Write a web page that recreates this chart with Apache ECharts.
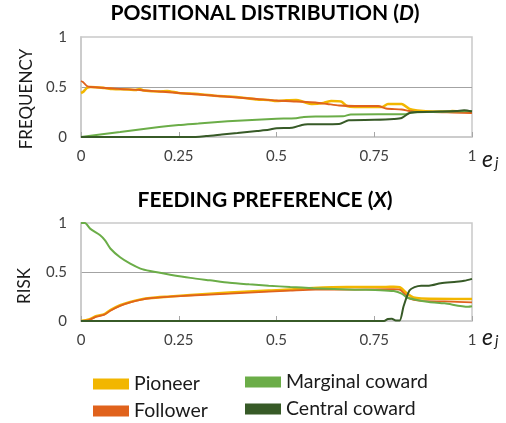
<!DOCTYPE html>
<html>
<head>
<meta charset="utf-8">
<script src="https://cdn.jsdelivr.net/npm/echarts@6/dist/echarts.min.js"></script>
<style>
  html, body { margin: 0; padding: 0; background: #fff; }
  #chart { width: 506px; height: 423px; }
</style>
</head>
<body>
<div id="chart"></div>
<script>
// Series names and colours
const seriesNames = ['Pioneer', 'Follower', 'Marginal coward', 'Central coward'];
const seriesColors = ['#F2B600', '#E0621C', '#6BAD48', '#375A27'];

// Axis ticks
const xTicks = [0, 0.25, 0.5, 0.75, 1];
const yTicks = [0, 0.5, 1];

// Positional distribution (D): [e_j, frequency]
const posPioneer = [[0,0.44],[0.005,0.45],[0.015,0.49],[0.025,0.50],[0.06,0.49],[0.08,0.48],[0.12,0.475],[0.14,0.47],[0.15,0.48],[0.16,0.465],[0.2,0.455],[0.22,0.46],[0.25,0.44],[0.3,0.43],[0.35,0.41],[0.38,0.405],[0.42,0.39],[0.45,0.375],[0.48,0.37],[0.5,0.36],[0.52,0.365],[0.55,0.37],[0.57,0.35],[0.59,0.33],[0.62,0.34],[0.64,0.36],[0.665,0.355],[0.68,0.31],[0.7,0.30],[0.77,0.30],[0.785,0.33],[0.82,0.33],[0.84,0.28],[0.86,0.265],[0.9,0.255],[0.94,0.255],[0.95,0.26],[1,0.245]];
const posFollower = [[0,0.56],[0.005,0.55],[0.015,0.51],[0.025,0.50],[0.1,0.48],[0.15,0.47],[0.2,0.455],[0.25,0.44],[0.3,0.425],[0.35,0.41],[0.4,0.395],[0.45,0.38],[0.5,0.365],[0.55,0.355],[0.6,0.345],[0.63,0.33],[0.66,0.315],[0.7,0.31],[0.76,0.31],[0.78,0.285],[0.82,0.275],[0.84,0.26],[0.86,0.25],[0.9,0.25],[0.95,0.245],[1,0.24]];
const posMarginal = [[0,0],[0.1,0.05],[0.2,0.1],[0.25,0.12],[0.3,0.135],[0.35,0.15],[0.4,0.163],[0.45,0.173],[0.5,0.182],[0.55,0.188],[0.57,0.2],[0.6,0.205],[0.67,0.207],[0.69,0.225],[0.83,0.228],[0.845,0.245],[0.9,0.25],[1,0.26]];
const posCentral = [[0,0],[0.28,0],[0.32,0.01],[0.36,0.025],[0.4,0.04],[0.45,0.06],[0.48,0.072],[0.5,0.088],[0.54,0.092],[0.565,0.12],[0.58,0.127],[0.66,0.13],[0.685,0.168],[0.75,0.172],[0.8,0.18],[0.82,0.19],[0.84,0.24],[0.86,0.25],[0.92,0.255],[0.96,0.26],[0.98,0.268],[1,0.255]];

// Feeding preference (X): [e_j, risk]
const feedPioneer = [[0,0],[0.02,0.015],[0.04,0.05],[0.06,0.07],[0.075,0.11],[0.1,0.16],[0.126,0.195],[0.152,0.22],[0.177,0.235],[0.228,0.25],[0.28,0.265],[0.38,0.29],[0.48,0.31],[0.535,0.32],[0.594,0.337],[0.68,0.347],[0.78,0.347],[0.8,0.35],[0.815,0.345],[0.834,0.28],[0.85,0.24],[0.87,0.23],[1,0.225]];
const feedFollower = [[0,0],[0.02,0.01],[0.04,0.045],[0.06,0.065],[0.075,0.105],[0.1,0.155],[0.126,0.19],[0.152,0.215],[0.177,0.232],[0.228,0.248],[0.28,0.26],[0.38,0.28],[0.48,0.3],[0.535,0.31],[0.6,0.32],[0.7,0.32],[0.8,0.325],[0.815,0.32],[0.84,0.23],[0.87,0.205],[0.93,0.2],[1,0.19]];
const feedMarginal = [[0,1],[0.01,1],[0.024,0.94],[0.049,0.875],[0.062,0.82],[0.075,0.74],[0.1,0.65],[0.126,0.585],[0.152,0.535],[0.177,0.51],[0.228,0.473],[0.28,0.44],[0.33,0.415],[0.38,0.39],[0.43,0.374],[0.48,0.36],[0.535,0.347],[0.594,0.335],[0.7,0.32],[0.766,0.315],[0.8,0.305],[0.82,0.28],[0.834,0.24],[0.853,0.22],[0.89,0.195],[0.93,0.18],[0.99,0.145],[1,0.15]];
const feedCentral = [[0,0],[0.775,0],[0.785,0.02],[0.795,0.022],[0.805,0.005],[0.815,0.005],[0.825,0.15],[0.84,0.31],[0.853,0.345],[0.87,0.36],[0.89,0.36],[0.92,0.385],[0.96,0.4],[0.98,0.41],[1,0.43]];

const panelData = [
  [posPioneer, posFollower, posMarginal, posCentral],
  [feedPioneer, feedFollower, feedMarginal, feedCentral]
];

const FONT = 'Lato';
const frameColor = '#c9c9c9';
const axisTextColor = '#404040';
const lineWidths = [2.6, 1.8, 2, 2];

function xAxisFor(gridIndex) {
  return {
    type: 'value', gridIndex: gridIndex,
    min: xTicks[0], max: xTicks[xTicks.length - 1], interval: xTicks[1] - xTicks[0],
    axisLine: { show: true, lineStyle: { color: frameColor, width: 1.5 } },
    axisTick: { show: true, inside: true, length: 5, lineStyle: { color: '#a6a6a6' } },
    axisLabel: { color: axisTextColor, fontFamily: FONT, fontSize: 15, margin: 12,
      formatter: v => String(v) },
    splitLine: { show: false }
  };
}
function yAxisFor(gridIndex) {
  return {
    type: 'value', gridIndex: gridIndex,
    min: yTicks[0], max: yTicks[yTicks.length - 1], interval: yTicks[1] - yTicks[0],
    axisLine: { show: true, lineStyle: { color: frameColor, width: 1.5 } },
    axisTick: { show: false },
    axisLabel: { color: axisTextColor, fontFamily: FONT, fontSize: 15, margin: 14,
      formatter: v => String(v) },
    splitLine: { show: true, showMinLine: false, showMaxLine: false,
      lineStyle: { color: '#a3a3a3', width: 1 } }
  };
}

const series = [];
panelData.forEach((panel, gi) => {
  panel.forEach((pts, si) => {
    series.push({
      name: seriesNames[si], type: 'line',
      xAxisIndex: gi, yAxisIndex: gi,
      data: pts, showSymbol: false, smooth: 0.25,
      lineStyle: { color: seriesColors[si], width: lineWidths[si] },
      itemStyle: { color: seriesColors[si] },
      z: 2 + si
    });
  });
});

// One legend block per entry, laid out as two columns
const legendSlots = [
  { name: seriesNames[0], left: 93, top: 374 },
  { name: seriesNames[1], left: 93, top: 401 },
  { name: seriesNames[2], left: 245, top: 372 },
  { name: seriesNames[3], left: 245, top: 399 }
];
const legends = legendSlots.map(s => ({
  left: s.left, top: s.top, padding: 0,
  data: [s.name], icon: 'rect', itemWidth: 36, itemHeight: 11, itemTextGap: 12,
  textStyle: { fontFamily: FONT, fontSize: 19.5, color: '#1a1a1a', lineHeight: 19 },
  selectedMode: false
}));

const titleRich = {
  b: { fontFamily: FONT, fontWeight: 'bold', fontSize: 21, fill: '#000' },
  i: { fontFamily: FONT, fontWeight: 'bold', fontStyle: 'italic', fontSize: 21, fill: '#000' }
};

function ejLabel(x, y) {
  return [
    { type: 'text', left: x, top: y, style: { text: 'e', font: 'italic 23px ' + FONT, fill: '#1a1a1a' } },
    { type: 'text', left: x + 13, top: y + 8, style: { text: 'j', font: 'italic 15px ' + FONT, fill: '#1a1a1a' } }
  ];
}

const option = {
  backgroundColor: '#fff',
  animation: false,
  grid: [
    { left: 81, right: 34, top: 37, height: 100, show: true, borderColor: frameColor, borderWidth: 1.5 },
    { left: 81, right: 34, top: 223, height: 98, show: true, borderColor: frameColor, borderWidth: 1.5 }
  ],
  xAxis: [xAxisFor(0), xAxisFor(1)],
  yAxis: [yAxisFor(0), yAxisFor(1)],
  legend: legends,
  graphic: [
    { type: 'text', x: 265, y: 3, style: { text: '{b|POSITIONAL DISTRIBUTION (}{i|D}{b|)}', rich: titleRich, align: 'center', verticalAlign: 'top' } },
    { type: 'text', x: 265, y: 190, style: { text: '{b|FEEDING PREFERENCE (}{i|X}{b|)}', rich: titleRich, align: 'center', verticalAlign: 'top' } },
    { type: 'text', x: 27, y: 99, rotation: Math.PI / 2, style: { text: 'FREQUENCY', font: '17px ' + FONT, fill: '#1a1a1a', align: 'center', verticalAlign: 'middle' } },
    { type: 'text', x: 25, y: 286, rotation: Math.PI / 2, style: { text: 'RISK', font: '17px ' + FONT, fill: '#1a1a1a', align: 'center', verticalAlign: 'middle' } }
  ].concat(ejLabel(482, 148), ejLabel(482, 326)),
  series: series
};

const chart = echarts.init(document.getElementById('chart'), null, { renderer: 'canvas' });
chart.setOption(option);
</script>
</body>
</html>
